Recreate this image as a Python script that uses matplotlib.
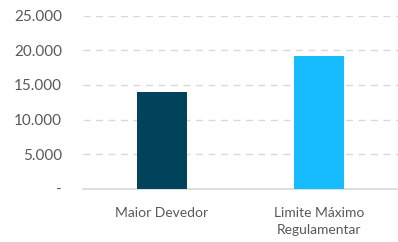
import matplotlib
matplotlib.use("Agg")
import matplotlib.pyplot as plt
from matplotlib.ticker import FuncFormatter

categories = ["Maior Devedor", "Limite Máximo\nRegulamentar"]
values = [14000, 19200]
colors = ["#02435C", "#17BCFF"]
yticks = [0, 5000, 10000, 15000, 20000, 25000]

plt.rcParams['font.family'] = ['Lato', 'DejaVu Sans']
fig = plt.figure(figsize=(3.98, 2.42), dpi=100)
ax = fig.add_axes([83/398, 1 - 188.7/242, (398 - 83)/398, (188.7 - 15.7)/242])

x = range(len(categories))
ax.bar(x, values, width=0.32, color=colors, zorder=3)
ax.set_xlim(-0.5, 1.5)
ax.set_ylim(0, 25000)
ax.set_yticks(yticks)

def fmt(v, pos):
    if v == 0:
        return "-"
    return f"{int(v):,}".replace(",", ".")

ax.yaxis.set_major_formatter(FuncFormatter(fmt))
ax.set_xticks(list(x))
ax.set_xticklabels(categories, fontsize=10, color="#595959", linespacing=1.5)
ax.tick_params(axis='y', labelsize=11, colors="#595959", length=0, pad=15)
ax.tick_params(axis='x', length=0, pad=13)
for s in ["top", "right", "left"]:
    ax.spines[s].set_visible(False)
ax.spines["bottom"].set_color("#D9D9D9")
ax.spines["bottom"].set_linewidth(1.2)
ax.yaxis.grid(True, color="#D9D9D9", linestyle=(0, (5, 4)), linewidth=1, zorder=0)
ax.set_axisbelow(True)

fig.savefig("out.png", dpi=100)
